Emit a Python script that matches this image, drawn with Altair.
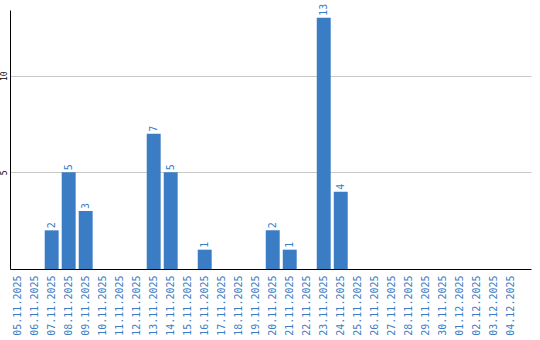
import altair as alt
import pandas as pd

dates = ["05.11.2025", "06.11.2025", "07.11.2025", "08.11.2025", "09.11.2025",
         "10.11.2025", "11.11.2025", "12.11.2025", "13.11.2025", "14.11.2025",
         "15.11.2025", "16.11.2025", "17.11.2025", "18.11.2025", "19.11.2025",
         "20.11.2025", "21.11.2025", "22.11.2025", "23.11.2025", "24.11.2025",
         "25.11.2025", "26.11.2025", "27.11.2025", "28.11.2025", "29.11.2025",
         "30.11.2025", "01.12.2025", "02.12.2025", "03.12.2025", "04.12.2025"]
counts = [0, 0, 2, 5, 3, 0, 0, 0, 7, 5,
          0, 1, 0, 0, 0, 2, 1, 0, 13, 4,
          0, 0, 0, 0, 0, 0, 0, 0, 0, 0]

df = pd.DataFrame({"date": dates, "count": counts})
df["label"] = [str(c) if c > 0 else "" for c in counts]

color = "#3b7dc4"

x = alt.X("date:N", sort=dates, title=None,
          scale=alt.Scale(paddingInner=0.18, paddingOuter=0.41, align=0.05),
          axis=alt.Axis(labelAngle=270, ticks=False, labelPadding=6,
                        labelColor=color, labelFont="DejaVu Sans Mono",
                        labelFontSize=10, domainColor="black", domainWidth=1,
                        grid=False))
y = alt.Y("count:Q", title=None,
          scale=alt.Scale(domain=[0, 13.4], nice=False),
          axis=alt.Axis(values=[5, 10], ticks=False, labelAngle=270,
                        labelFont="DejaVu Sans Mono", labelFontSize=8,
                        labelColor="black", labelPadding=2,
                        labelAlign="center", labelBaseline="bottom",
                        domainColor="black", domainWidth=1,
                        gridColor="#c8c8c8", gridWidth=1))

bars = alt.Chart(df).mark_bar(color=color).encode(x=x, y=y)
texts = alt.Chart(df).mark_text(angle=270, align="left", baseline="middle",
                                dx=2, font="DejaVu Sans Mono", fontSize=10,
                                color=color).encode(x=x, y=y, text="label:N")

chart = (bars + texts).properties(
    width=521, height=259,
    autosize=alt.AutoSizeParams(type="none"),
    padding={"left": 10, "top": 10, "right": 9, "bottom": 71},
    background="white",
).configure_view(stroke=None)

chart.save("out.html", embed_options={"renderer": "svg", "actions": False})
